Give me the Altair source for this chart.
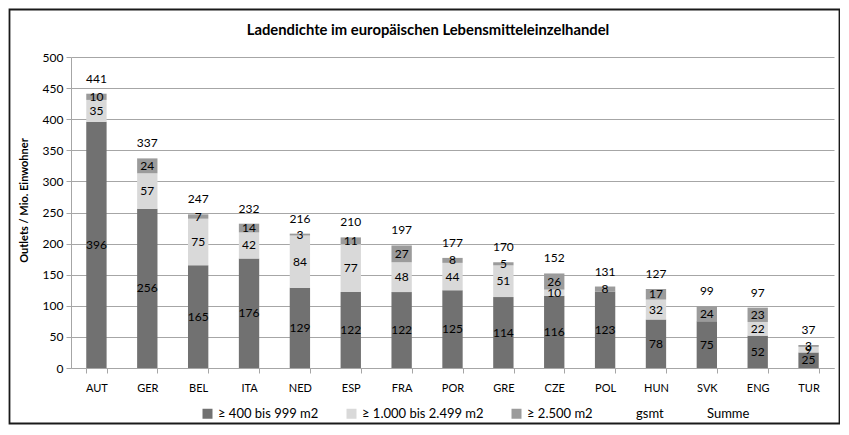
import altair as alt
import pandas as pd

countries = ["AUT", "GER", "BEL", "ITA", "NED", "ESP", "FRA", "POR", "GRE", "CZE",
             "POL", "HUN", "SVK", "ENG", "TUR"]
small = [396, 256, 165, 176, 129, 122, 122, 125, 114, 116, 123, 78, 75, 52, 25]
medium = [35, 57, 75, 42, 84, 77, 48, 44, 51, 10, 0, 32, 0, 22, 9]
large = [10, 24, 7, 14, 3, 11, 27, 8, 5, 26, 8, 17, 24, 23, 3]
totals = [441, 337, 247, 232, 216, 210, 197, 177, 170, 152, 131, 127, 99, 97, 37]

series = ["≥ 400 bis 999 m2", "≥ 1.000 bis 2.499 m2", "≥ 2.500 m2", "gsmt", "Summe"]
colors = ["#717171", "#d9d9d9", "#9b9b9b", "transparent", "transparent"]
title_text = "Ladendichte im europäischen Lebensmitteleinzelhandel"
y_ticks = list(range(0, 501, 50))

rows = []
for i, c in enumerate(countries):
    for k, vals in enumerate([small, medium, large]):
        rows.append({"country": c, "series": series[k], "value": vals[i], "order": k})
df = pd.DataFrame(rows)
df_tot = pd.DataFrame({"country": countries, "total": totals})

FONT = "Lato"

x_axis = alt.Axis(labelAngle=0, tickBand="extent", tickSize=5,
                  labelPadding=9, labelFontSize=11, grid=False,
                  domainColor="#a6a6a6", tickColor="#a6a6a6")
x_scale = alt.Scale(paddingInner=0.6, paddingOuter=0.3)


def xe():
    return alt.X("country:N", sort=countries, title=None, scale=x_scale, axis=x_axis)


y_axis = alt.Axis(values=y_ticks, tickSize=5, labelPadding=3,
                  labelFontSize=12, grid=True, gridColor="#a6a6a6",
                  labelOverlap=False,
                  domainColor="#a6a6a6", tickColor="#a6a6a6",
                  titleFontSize=11, titleFontWeight="bold",
                  titleX=-47, titleY=143, titleAngle=-90,
                  titleAlign="center", titleBaseline="middle")
y_scale = alt.Scale(domain=[0, 500])
y_title = "Outlets / Mio. Einwohner"


def ye(field, **kw):
    return alt.Y(field, scale=y_scale, axis=y_axis, title=y_title, **kw)


bars = alt.Chart(df).mark_bar().encode(
    x=xe(),
    y=ye("value:Q", stack="zero"),
    color=alt.Color("series:N", scale=alt.Scale(domain=series, range=colors),
                    legend=alt.Legend(title=None, orient="none", direction="horizontal",
                                      legendX=130, legendY=350, symbolType="square",
                                      symbolSize=100, symbolStrokeWidth=0,
                                      labelFontSize=13, columnPadding=26,
                                      labelOffset=4, labelLimit=300)),
    order=alt.Order("order:Q"),
)

seg_labels = alt.Chart(df).transform_filter("datum.value > 0").transform_stack(
    stack="value", as_=["v0", "v1"], groupby=["country"],
    sort=[alt.SortField("order", order="ascending")]
).transform_calculate(mid="(datum.v0 + datum.v1) / 2").mark_text(
    fontSize=12, color="#000000", baseline="middle", font=FONT
).encode(
    x=xe(),
    y=ye("mid:Q"),
    text="value:Q",
)

tot_labels = alt.Chart(df_tot).mark_text(
    fontSize=12, color="#000000", baseline="bottom", dy=-8, font=FONT
).encode(
    x=xe(),
    y=ye("total:Q"),
    text="total:Q",
)

single = pd.DataFrame({"a": [0]})

frame = alt.Chart(single).mark_rect(
    fill="transparent", stroke="#1a1a1a", strokeWidth=1.8
).encode(
    x=alt.value(-61.5), x2=alt.value(768.5), y=alt.value(-47.5), y2=alt.value(366.5)
)

title = alt.Chart(single).mark_text(
    fontSize=14.8, fontWeight="bold", font=FONT, color="#000000",
    align="center", baseline="middle"
).encode(
    x=alt.value(357), y=alt.value(-26), text=alt.value(title_text)
)

chart = alt.layer(bars, seg_labels, tot_labels, frame, title).properties(
    width=763, height=311,
    autosize=alt.AutoSizeParams(type="none"),
    padding={"left": 63, "top": 49, "right": 6, "bottom": 57},
).configure(font=FONT).configure_axis(
    labelFont=FONT, titleFont=FONT, labelColor="#000000", titleColor="#000000"
).configure_legend(labelFont=FONT, labelColor="#000000").configure_view(stroke=None)

chart.save("out.html", embed_options={"renderer": "svg", "actions": False})
